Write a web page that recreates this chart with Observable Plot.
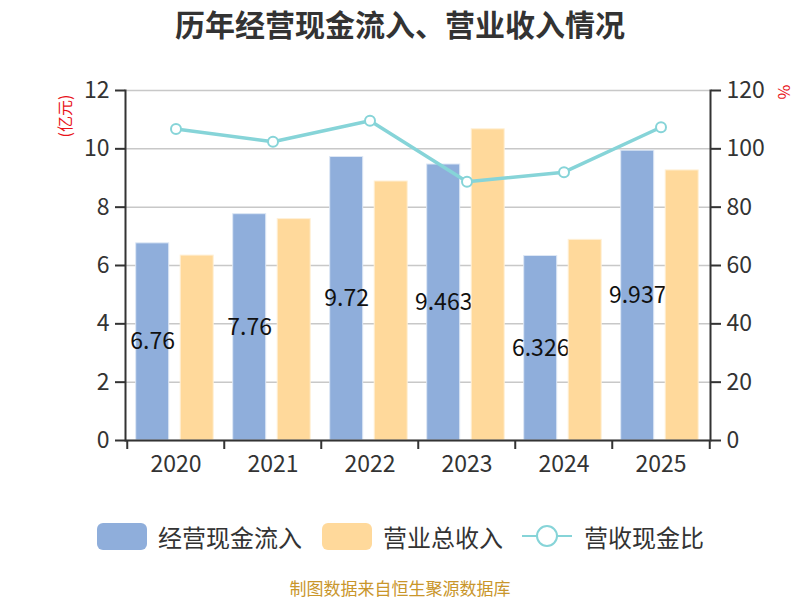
<!DOCTYPE html>
<html>
<head>
<meta charset="utf-8">
<script src="https://cdn.jsdelivr.net/npm/d3@7"></script>
<script src="https://cdn.jsdelivr.net/npm/@observablehq/plot@0.6"></script>
<style>
  html, body { margin: 0; padding: 0; background: #fff; }
  body { font-family: "Noto Sans CJK SC", "Noto Sans", sans-serif; }
  #wrap { position: relative; width: 800px; height: 600px; overflow: hidden; }
  #title { position: absolute; left: 0; top: 0; width: 800px; height: 46px; line-height: 46px; text-align: center; font-size: 30px; font-weight: bold; color: #333; }
  #chart { position: absolute; left: 0; top: 50px; }
  .unit { position: absolute; width: 60px; height: 20px; line-height: 20px; text-align: center; color: #e8141b; font-size: 16px; white-space: nowrap; }
  #legend { position: absolute; top: 516px; left: 0; width: 800px; height: 40px; }
  .lg { position: absolute; top: 0; height: 40px; display: flex; align-items: center; font-size: 24px; color: #333; white-space: nowrap; }
  .sw { width: 50px; height: 27px; border-radius: 6px; margin-right: 11px; flex: none; }
  #caption { position: absolute; top: 577px; left: 0; width: 800px; height: 22px; line-height: 22px; text-align: center; font-size: 17px; color: #c9962b; }
</style>
</head>
<body>
<div id="wrap">
  <div id="title">历年经营现金流入、营业收入情况</div>
  <div id="chart"></div>
  <div class="unit" style="left:33.5px; top:105.5px; transform: rotate(-90deg);">(亿元)</div>
  <div class="unit" style="left:755px; top:82px; transform: rotate(90deg);">%</div>
  <div id="legend">
    <div class="lg" style="left:97px;"><div class="sw" style="background:#8FAEDB"></div>经营现金流入</div>
    <div class="lg" style="left:322px;"><div class="sw" style="background:#FFD99B"></div>营业总收入</div>
    <div class="lg" style="left:522px;">
      <svg width="50" height="40" style="margin-right:12px; flex:none"><line x1="0" y1="20" x2="50" y2="20" stroke="#86D4D8" stroke-width="2"/><circle cx="25" cy="20" r="10" fill="#fff" stroke="#86D4D8" stroke-width="2"/></svg>营收现金比
    </div>
  </div>
  <div id="caption">制图数据来自恒生聚源数据库</div>
</div>
<script>
const years = ["2020", "2021", "2022", "2023", "2024", "2025"];
const cashInflow = [6.76, 7.76, 9.72, 9.463, 6.326, 9.937];
const revenue = [6.34, 7.59, 8.88, 10.67, 6.88, 9.26];
const ratio = [106.8, 102.4, 109.6, 88.7, 92.0, 107.4];
const leftTicks = [0, 2, 4, 6, 8, 10, 12];

const rows = years.map((year, i) => ({ year, cash: cashInflow[i], rev: revenue[i], ratio: ratio[i] }));
// right axis (0–120 %) shares the left scale (0–12): 10 % per left unit
const k = 10;

const W = 800, ML = 125, MR = 90;
const step = (W - ML - MR) / years.length;
const barW = 33.5, padL = 8.7, gapMid = 11;
const blueR = step - padL - barW;
const yelL = padL + barW + gapMid, yelR = step - yelL - barW;

const chart = Plot.plot({
  width: W, height: 440,
  marginLeft: ML, marginRight: MR, marginTop: 40, marginBottom: 50,
  style: { fontFamily: '"Noto Sans CJK SC", "Noto Sans", sans-serif', fontSize: "23px", color: "#333", background: "transparent", overflow: "visible" },
  x: { domain: years, padding: 0, axis: null },
  y: { domain: [0, 12], axis: null },
  marks: [
    Plot.gridY(leftTicks, { stroke: "#c8c8c8", strokeOpacity: 1, strokeWidth: 1.5 }),
    Plot.barY(rows, { x: "year", y: "cash", fill: "#8FAEDB", stroke: "#dde7f5", strokeWidth: 1, insetLeft: padL, insetRight: blueR }),
    Plot.text(rows, { x: "year", y: d => d.cash / 2, text: d => String(d.cash), dx: padL + barW / 2 - step / 2, fontSize: 23, fill: "#111" }),
    Plot.barY(rows, { x: "year", y: "rev", fill: "#FFD99B", stroke: "#fff0d6", strokeWidth: 1, insetLeft: yelL, insetRight: yelR }),
    Plot.line(rows, { x: "year", y: d => d.ratio / k, stroke: "#86D4D8", strokeWidth: 3.5 }),
    Plot.dot(rows, { x: "year", y: d => d.ratio / k, r: 5, fill: "#fff", stroke: "#86D4D8", strokeWidth: 2 }),
    Plot.axisY({ anchor: "left", ticks: leftTicks, tickSize: 10, tickPadding: 6, strokeWidth: 2, fontSize: 23, label: null }),
    Plot.axisY({ anchor: "right", ticks: leftTicks, tickFormat: d => d * k, tickSize: 10, tickPadding: 6, strokeWidth: 2, fontSize: 23, label: null }),
    Plot.axisX({ anchor: "bottom", tickSize: 0, tickPadding: 15, fontSize: 23, label: null }),
    Plot.axisX({ anchor: "bottom", tickSize: 9, tickFormat: () => "", dx: -step / 2, strokeWidth: 2, label: null }),
    Plot.axisX({ anchor: "bottom", ticks: [years[years.length - 1]], tickSize: 9, tickFormat: () => "", dx: step / 2, strokeWidth: 2, label: null }),
    Plot.ruleY([0], { stroke: "#333", strokeWidth: 2 }),
    Plot.frame({ anchor: "left", stroke: "#333", strokeWidth: 2 }),
    Plot.frame({ anchor: "right", stroke: "#333", strokeWidth: 2 })
  ]
});
document.getElementById("chart").appendChild(chart);
</script>
</body>
</html>
